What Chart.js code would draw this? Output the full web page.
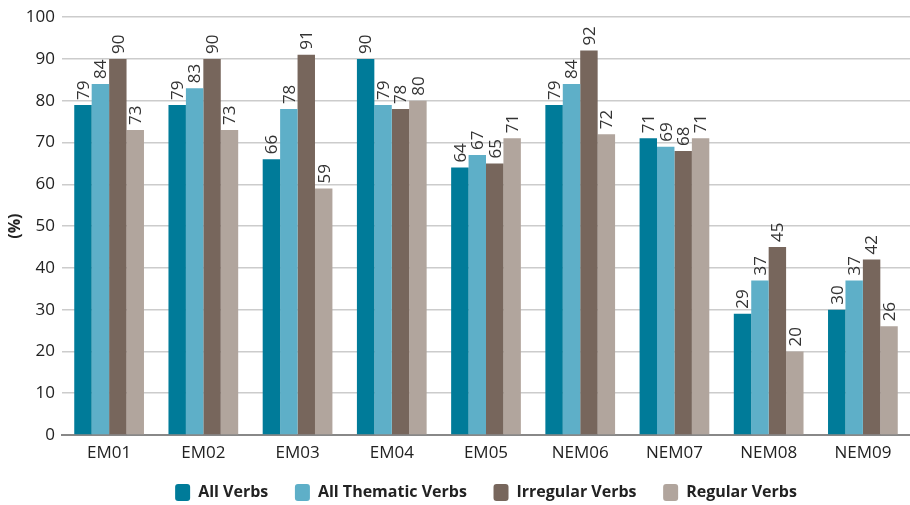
<!DOCTYPE html>
<html>
<head>
<meta charset="utf-8">
<script src="https://cdn.jsdelivr.net/npm/chart.js@4.4.1/dist/chart.umd.min.js"></script>
<style>
  html, body { margin: 0; padding: 0; background: #fff; }
  #wrap { width: 910px; height: 505px; }
</style>
</head>
<body>
<div id="wrap"><canvas id="verbChart"></canvas></div>
<script>
const categories = ['EM01', 'EM02', 'EM03', 'EM04', 'EM05', 'NEM06', 'NEM07', 'NEM08', 'NEM09'];
const allVerbs = [79, 79, 66, 90, 64, 79, 71, 29, 30];
const allThematicVerbs = [84, 83, 78, 79, 67, 84, 69, 37, 37];
const irregularVerbs = [90, 90, 91, 78, 65, 92, 68, 45, 42];
const regularVerbs = [73, 73, 59, 80, 71, 72, 71, 20, 26];
const yTicks = [0, 10, 20, 30, 40, 50, 60, 70, 80, 90, 100];

const FONT = "'Open Sans', 'Noto Sans', sans-serif";

// rotated value labels on top of each bar
const barLabels = {
  id: 'barLabels',
  afterDatasetsDraw(chart) {
    const ctx = chart.ctx;
    ctx.save();
    ctx.font = `17px ${FONT}`;
    ctx.fillStyle = '#333';
    ctx.textAlign = 'left';
    ctx.textBaseline = 'middle';
    chart.data.datasets.forEach((ds, i) => {
      chart.getDatasetMeta(i).data.forEach((bar, j) => {
        ctx.save();
        ctx.translate(bar.x + 1, bar.y - 5);
        ctx.rotate(-Math.PI / 2);
        ctx.fillText(String(ds.data[j]), 0, 0);
        ctx.restore();
      });
    });
    ctx.restore();
  }
};

// legend sits centred under the plot area, a bit lower than the default
const legendShift = {
  id: 'legendShift',
  afterLayout(chart) {
    const lg = chart.legend;
    if (!lg) return;
    const dx = (chart.chartArea.left + chart.chartArea.right) / 2 - (lg.left + lg.right) / 2;
    lg.left += dx;
    lg.right += dx;
    lg.top += 9;
    lg.bottom += 9;
  }
};

new Chart(document.getElementById('verbChart'), {
  type: 'bar',
  data: {
    labels: categories,
    datasets: [
      { label: 'All Verbs', data: allVerbs, backgroundColor: '#007b99' },
      { label: 'All Thematic Verbs', data: allThematicVerbs, backgroundColor: '#5eafc8' },
      { label: 'Irregular Verbs', data: irregularVerbs, backgroundColor: '#77665c' },
      { label: 'Regular Verbs', data: regularVerbs, backgroundColor: '#b1a59d' },
    ],
  },
  options: {
    responsive: true,
    maintainAspectRatio: false,
    animation: false,
    layout: { padding: { top: 8, right: 0, bottom: 3, left: 0 } },
    datasets: { bar: { categoryPercentage: 0.74, barPercentage: 1.0 } },
    plugins: {
      legend: {
        position: 'bottom',
        labels: {
          font: { family: FONT, size: 16, weight: 'bold' },
          color: '#222',
          boxWidth: 15,
          boxHeight: 17,
          useBorderRadius: true,
          borderRadius: 3,
          padding: 10,
          generateLabels: (chart) => {
            const items = Chart.defaults.plugins.legend.labels.generateLabels(chart);
            // widen the gap between entries without growing the legend's height
            return items.map((it, i) => (i < items.length - 1 ? { ...it, text: it.text + '    ' } : it));
          },
        },
      },
      tooltip: { enabled: false },
    },
    scales: {
      x: {
        grid: { display: false },
        border: { color: '#888', width: 2 },
        ticks: { font: { family: FONT, size: 17 }, color: '#222', padding: 0 },
        afterFit: (scale) => { scale.height = 30; },
      },
      y: {
        min: 0,
        max: 100,
        afterBuildTicks: (scale) => { scale.ticks = yTicks.map(v => ({ value: v })); },
        grid: { color: '#ccc', lineWidth: 1.5, drawTicks: false },
        border: { display: false },
        ticks: { font: { family: FONT, size: 17 }, color: '#222', padding: 7 },
        title: { display: true, text: '(%)', font: { family: FONT, size: 16, weight: 'bold' }, color: '#222', padding: { top: 6, bottom: 0 } },
        afterFit: (scale) => { scale.width = 62; },
      },
    },
  },
  plugins: [barLabels, legendShift],
});
</script>
</body>
</html>
